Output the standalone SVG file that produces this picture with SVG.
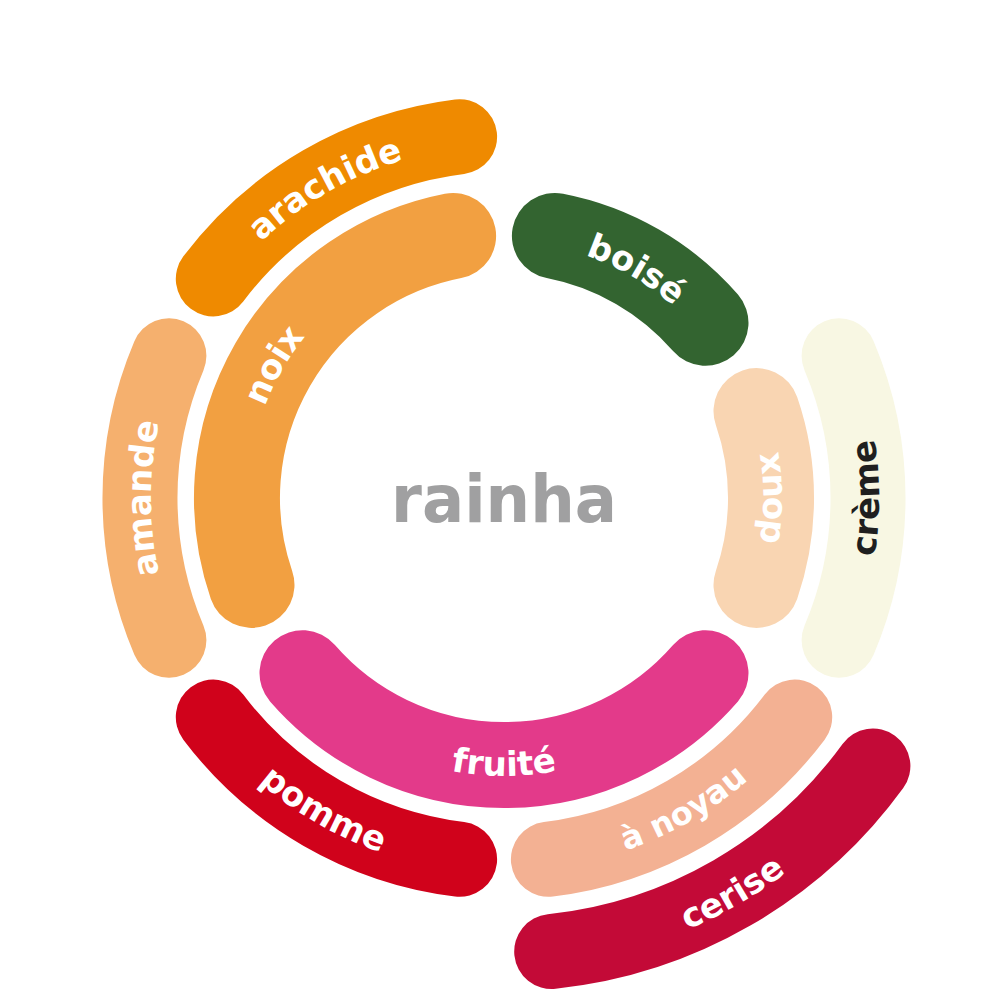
<svg xmlns="http://www.w3.org/2000/svg" xmlns:xlink="http://www.w3.org/1999/xlink" width="1000" height="1000" viewBox="0 0 1000 1000">
<style>
.seg{fill:none;stroke-linecap:round}
.inner{stroke-width:86}
.mid{stroke-width:75}
.lbl{font-family:"DejaVu Sans","Liberation Sans",sans-serif;font-weight:bold;font-size:34px;fill:#ffffff;text-anchor:middle}
.dark{fill:#1f1f1f}
.title{font-family:"DejaVu Sans","Liberation Sans",sans-serif;font-weight:bold;font-size:66px;fill:#a0a0a1;text-anchor:middle}
</style>
<defs>
<path id="tp-noix" d="M 263.4 585.6 A 256 256 0 0 1 459.6 245.9"/>
<path id="tp-arachide" d="M 156.4 436.7 A 353 353 0 0 1 624.7 166.3"/>
<path id="tp-amande" d="M 277.1 768.4 A 353 353 0 0 1 277.1 227.6"/>
<path id="tp-boise" d="M 416.4 257.4 A 256 256 0 0 1 756.1 453.6"/>
<path id="tp-doux" d="M 682.7 710.9 A 278 278 0 0 0 682.7 285.1"/>
<path id="tp-creme" d="M 745.1 785.3 A 375 375 0 0 0 745.1 210.7"/>
<path id="tp-fruite" d="M 291.1 676.7 A 278 278 0 0 0 716.9 676.7"/>
<path id="tp-pomme" d="M 134.7 563.1 A 375 375 0 0 0 632.3 850.4"/>
<path id="tp-noyau" d="M 376.2 848.5 A 373 373 0 0 0 871.3 562.8"/>
<path id="tp-cerise" d="M 343.6 938.7 A 469 469 0 0 0 965.9 579.4"/>
</defs>

<g id="arachide">
<path class="seg mid" stroke="#ef8a00" d="M 213.3 278.9 A 364 364 0 0 1 459.6 136.7"/>
<text class="lbl"><textPath xlink:href="#tp-arachide" href="#tp-arachide" startOffset="50%">arachide</textPath></text>
</g>
<g id="noix">
<path class="seg inner" stroke="#f2a041" d="M 251.5 584.9 A 267 267 0 0 1 453.1 235.9"/>
<text class="lbl"><textPath xlink:href="#tp-noix" href="#tp-noix" startOffset="50%">noix</textPath></text>
</g>
<g id="amande">
<path class="seg mid" stroke="#f5b06e" d="M 168.9 640.2 A 364 364 0 0 1 168.9 355.8"/>
<text class="lbl"><textPath xlink:href="#tp-amande" href="#tp-amande" startOffset="50%">amande</textPath></text>
</g>
<g id="boise">
<path class="seg inner" stroke="#336430" d="M 554.9 235.9 A 267 267 0 0 1 705.5 322.8"/>
<text class="lbl"><textPath xlink:href="#tp-boise" href="#tp-boise" startOffset="50%">boisé</textPath></text>
</g>
<g id="doux">
<path class="seg inner" stroke="#f9d5b2" d="M 756.5 584.9 A 267 267 0 0 0 756.5 411.1"/>
<text class="lbl"><textPath xlink:href="#tp-doux" href="#tp-doux" startOffset="50%">doux</textPath></text>
</g>
<g id="creme">
<path class="seg mid" stroke="#f8f7e3" d="M 839.1 640.2 A 364 364 0 0 0 839.1 355.8"/>
<text class="lbl dark"><textPath xlink:href="#tp-creme" href="#tp-creme" startOffset="50%">crème</textPath></text>
</g>
<g id="fruite">
<path class="seg inner" stroke="#e33a8a" d="M 302.5 673.2 A 267 267 0 0 0 705.5 673.2"/>
<text class="lbl"><textPath xlink:href="#tp-fruite" href="#tp-fruite" startOffset="50%">fruité</textPath></text>
</g>
<g id="pomme">
<path class="seg mid" stroke="#d0021b" d="M 213.3 717.1 A 364 364 0 0 0 459.6 859.3"/>
<text class="lbl"><textPath xlink:href="#tp-pomme" href="#tp-pomme" startOffset="50%">pomme</textPath></text>
</g>
<g id="a-noyau">
<path class="seg mid" stroke="#f3b193" d="M 548.4 859.3 A 364 364 0 0 0 794.7 717.1"/>
<text class="lbl" style="font-size:32px"><textPath xlink:href="#tp-noyau" href="#tp-noyau" startOffset="50%">à noyau</textPath></text>
</g>
<g id="cerise">
<path class="seg mid" stroke="#c30a37" d="M 551.7 951.5 A 456 456 0 0 0 872.9 766.0"/>
<text class="lbl"><textPath xlink:href="#tp-cerise" href="#tp-cerise" startOffset="50%">cerise</textPath></text>
</g>
<g id="rainha">
<text class="title" x="504" y="522" textLength="226" lengthAdjust="spacingAndGlyphs">rainha</text>
</g>
</svg>
